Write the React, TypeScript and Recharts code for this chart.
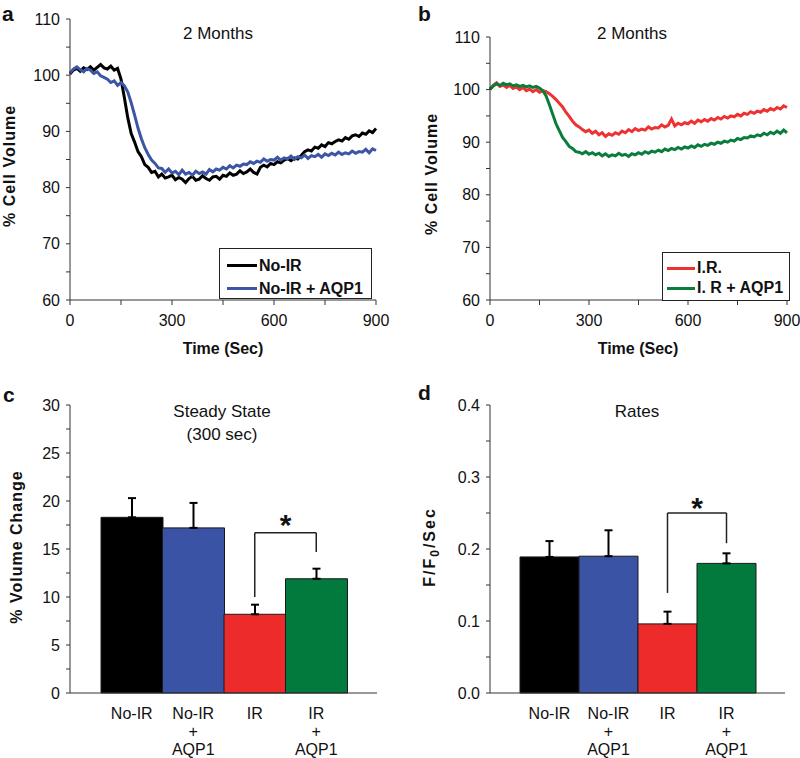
import React from 'react';
import { LineChart, Line, BarChart, Bar, Cell, XAxis, YAxis, ErrorBar, ReferenceLine, Legend } from 'recharts';

const FONT = '"Liberation Sans", Arial, Helvetica, sans-serif';

// ---------- time course data (every 10 s, 0..900 s) ----------
const times = Array.from({ length: 91 }, (_, i) => i * 10);

const noIR = [
  100.2, 100.9, 101.2, 100.7, 101.3, 101.0, 101.5, 100.9, 101.4, 101.9,
  101.3, 101.1, 101.6, 100.9, 101.2, 99.3, 96.0, 92.4, 89.6, 88.1,
  86.4, 85.5, 84.1, 83.6, 82.7, 82.9, 81.9, 82.4, 81.7, 81.9,
  82.2, 81.4, 81.8, 81.5, 80.9, 81.6, 82.0, 81.3, 81.5, 82.1,
  81.6, 81.3, 81.9, 82.0, 81.5, 82.2, 82.0, 82.6, 82.2, 82.4,
  83.0, 82.5, 82.8, 83.3, 82.7, 82.4, 83.6, 84.0, 83.7, 84.3,
  84.1, 84.6, 84.4, 84.9, 85.2, 84.8, 85.3, 85.1, 85.7, 86.4,
  86.7, 86.5, 87.2, 87.0, 87.6, 87.3, 88.0, 87.8, 88.2, 88.5,
  88.3, 88.9, 88.6, 89.2, 89.4, 89.1, 89.7, 89.5, 90.1, 89.8,
  90.5,
];
const noIRAqp1 = [
  100.4, 101.1, 101.5, 101.0, 100.6, 101.2, 100.9, 100.3, 100.6, 99.9,
  99.6, 99.3, 98.7, 99.0, 98.2, 98.7, 98.1, 97.0, 95.1, 92.9,
  90.6, 88.7, 87.1, 85.9, 84.9, 84.3, 83.5, 83.4, 82.7, 83.3,
  82.6, 82.9, 82.3, 83.1, 82.4, 82.7, 82.2, 82.9, 82.5, 82.8,
  82.4, 83.2, 82.8, 83.3, 83.1, 83.6, 83.3, 83.9, 83.5, 84.0,
  83.8, 84.2, 84.1, 84.6, 84.3, 84.7, 84.5, 85.1, 84.7, 85.0,
  84.9, 85.4, 84.9, 85.3, 85.1, 85.6, 85.0, 85.5, 85.3, 85.8,
  85.2, 85.7, 85.5, 85.9, 85.4, 86.0, 85.7, 86.1, 85.8, 86.3,
  85.9, 86.2, 86.0, 86.5, 86.1, 86.4, 86.3, 86.8, 86.2, 86.9,
  86.6,
];
const ir = [
  100.1, 100.8, 101.3, 100.6, 100.9, 100.4, 100.8, 100.2, 100.5, 100.0,
  100.4, 99.8, 100.1, 99.6, 100.0, 99.5, 99.8, 99.6, 99.2, 98.7,
  98.1, 97.4, 96.7, 95.7, 94.9, 94.0, 93.3, 92.9, 92.4, 92.0,
  92.3, 91.7, 92.1, 91.4, 91.8, 91.1, 91.6, 91.3, 91.8, 91.5,
  92.1, 91.8, 92.4, 92.0, 92.6, 92.2, 92.5, 92.3, 92.9, 92.5,
  92.8, 92.7, 93.3, 92.9, 93.2, 94.4, 93.1, 93.6, 93.3, 93.7,
  93.5, 94.0, 93.6, 94.2, 93.9, 94.3, 94.0, 94.5, 94.2, 94.7,
  94.4, 94.9, 94.6, 95.0, 94.8, 95.3, 95.0, 95.5, 95.3, 95.8,
  95.5, 95.9, 95.7, 96.2, 95.9, 96.4, 96.1, 96.6, 96.3, 96.9,
  96.6,
];
const irAqp1 = [
  100.0, 100.7, 101.1, 100.8, 101.2, 100.9, 101.1, 100.7, 100.9, 100.6,
  100.8, 100.5, 100.7, 100.4, 100.6, 100.3, 99.8, 98.8, 97.1, 95.3,
  93.5, 92.2, 90.9, 90.1, 89.2, 88.8, 88.2, 88.1, 87.8, 88.2,
  87.7, 88.0, 87.6, 87.9, 87.4, 87.8, 87.3, 87.6, 87.4, 87.9,
  87.5, 87.7, 87.3, 87.8, 87.6, 88.0, 87.7, 88.2, 87.9, 88.3,
  88.1, 88.5, 88.2, 88.7, 88.4, 88.8, 88.6, 89.0, 88.7, 89.1,
  88.9, 89.3, 89.0, 89.5, 89.2, 89.6, 89.4, 89.8, 89.6, 90.0,
  89.8, 90.2, 90.0, 90.4, 90.2, 90.7, 90.5, 90.9, 90.8, 91.2,
  91.0, 91.4, 91.2, 91.7, 91.4, 91.9, 91.6, 92.1, 91.7, 92.3,
  91.8,
];

const timeTicks = [0, 150, 300, 450, 600, 750, 900];
const timeLabels = [0, 300, 600, 900];
const volTicks = [60, 65, 70, 75, 80, 85, 90, 95, 100, 105, 110];
const volLabels = [60, 70, 80, 90, 100, 110];
const seriesNamesA = ['No-IR', 'No-IR + AQP1'];
const seriesNamesB = ['I.R.', 'I. R + AQP1'];

// ---------- bar data ----------
const groups = ['No-IR', 'No-IR + AQP1', 'IR', 'IR + AQP1'];
const groupColors = ['#000000', '#3a53a4', '#ed2b2b', '#027a3e'];
const steadyMean = [18.3, 17.2, 8.2, 11.9];
const steadyUpper = [20.3, 19.8, 9.2, 12.95];
const rateMean = [0.189, 0.19, 0.096, 0.18];
const rateUpper = [0.211, 0.226, 0.113, 0.194];
const steadyTicks = [0, 2.5, 5, 7.5, 10, 12.5, 15, 17.5, 20, 22.5, 25, 27.5, 30];
const steadyLabels = [0, 5, 10, 15, 20, 25, 30];
const rateTicks = [0, 0.05, 0.1, 0.15, 0.2, 0.25, 0.3, 0.35, 0.4];
const rateLabels = [0, 0.1, 0.2, 0.3, 0.4];
// bracket: [top, left leg end, right leg end]
const steadyBracket = [16.7, 10.0, 14.7];
const rateBracket = [0.25, 0.139, 0.208];

const lineDataA = times.map((t, i) => ({ t, noIR: noIR[i], noIRAqp1: noIRAqp1[i] }));
const lineDataB = times.map((t, i) => ({ t, ir: ir[i], irAqp1: irAqp1[i] }));
const steadyData = groups.map((g, i) => ({ name: g, value: steadyMean[i], err: [0, steadyUpper[i] - steadyMean[i]] }));
const rateData = groups.map((g, i) => ({ name: g, value: rateMean[i], err: [0, rateUpper[i] - rateMean[i]] }));

const fmtIn = (labels: number[], digits = 0) => (v: number) =>
  labels.some((l) => Math.abs(l - v) < 1e-9) ? v.toFixed(digits) : '';

const tickStyle = { fill: '#111', fontSize: 16, fontFamily: FONT };
const AXIS = '#333';

const CatTick = (props: any) => {
  const { x, y, payload } = props;
  const parts = String(payload.value).split(' ');
  const offs = [18, 36, 54];
  return (
    <g>
      {parts.map((p, i) => (
        <text key={i} x={x} y={y + offs[i]} textAnchor="middle" fontSize={16} fontFamily={FONT} fill="#111">
          {p}
        </text>
      ))}
    </g>
  );
};

const makeLegend = (cfg: { padLeft: number; padTop: number; rowH: number; lineW: number; order: string[] }) => (props: any) => {
  const payload = [...(props.payload || [])].sort(
    (a: any, b: any) => cfg.order.indexOf(a.value) - cfg.order.indexOf(b.value)
  );
  return (
    <div
      style={{
        width: '100%',
        height: '100%',
        boxSizing: 'border-box',
        border: '1px solid #222',
        background: '#fff',
        fontFamily: FONT,
        fontWeight: 700,
        fontSize: 16,
        color: '#111',
        paddingLeft: cfg.padLeft,
        paddingTop: cfg.padTop,
      }}
    >
      {payload.map((p: any) => (
        <div key={p.value} style={{ display: 'flex', alignItems: 'center', height: cfg.rowH, whiteSpace: 'nowrap' }}>
          <span style={{ display: 'inline-block', width: cfg.lineW, height: 3, background: p.color, marginRight: 2 }} />
          <span>{p.value}</span>
        </div>
      ))}
    </div>
  );
};

const letterStyle = { fontFamily: FONT, fontWeight: 700, fontSize: 21, fill: '#111' };
const titleStyle = { fontFamily: FONT, fontSize: 17, fill: '#111' };
const axisTitleStyle = { fontFamily: FONT, fontWeight: 700, fontSize: 16, fill: '#111' };
const LW = 3;

const PanelA = () => (
  <LineChart width={400} height={370} data={lineDataA} margin={{ top: 19, right: 24, bottom: 20, left: 30 }}>
    <XAxis dataKey="t" type="number" domain={[0, 900]} ticks={timeTicks} tickFormatter={fmtIn(timeLabels)}
      height={50} tickSize={5} tickMargin={10} stroke={AXIS} tick={tickStyle} interval={0} />
    <YAxis type="number" domain={[60, 110]} ticks={volTicks} tickFormatter={fmtIn(volLabels)}
      width={40} tickSize={4} tickMargin={6} stroke={AXIS} tick={tickStyle} interval={0} />
    <Line dataKey="noIR" name={seriesNamesA[0]} stroke="#000000" strokeWidth={LW} dot={false} isAnimationActive={false} />
    <Line dataKey="noIRAqp1" name={seriesNamesA[1]} stroke="#3c55a5" strokeWidth={LW} dot={false} isAnimationActive={false} />
    <Legend layout="vertical" align="center" verticalAlign="middle"
      content={makeLegend({ padLeft: 7, padTop: 5, rowH: 23, lineW: 30, order: seriesNamesA })}
      wrapperStyle={{ left: 219, top: 248, width: 153, height: 51 }} />
    <text x={2} y={21} {...letterStyle}>a</text>
    <text x={218} y={39} textAnchor="middle" {...titleStyle}>2 Months</text>
    <text transform="translate(15,166) rotate(-90)" textAnchor="middle" letterSpacing={1} {...axisTitleStyle}>% Cell Volume</text>
    <text x={223} y={354} textAnchor="middle" {...axisTitleStyle}>Time (Sec)</text>
  </LineChart>
);

const PanelB = () => (
  <LineChart width={400} height={370} data={lineDataB} margin={{ top: 37, right: 13, bottom: 20, left: 50 }}>
    <XAxis dataKey="t" type="number" domain={[0, 900]} ticks={timeTicks} tickFormatter={fmtIn(timeLabels)}
      height={50} tickSize={5} tickMargin={10} stroke={AXIS} tick={tickStyle} interval={0} />
    <YAxis type="number" domain={[60, 110]} ticks={volTicks} tickFormatter={fmtIn(volLabels)}
      width={40} tickSize={4} tickMargin={6} stroke={AXIS} tick={tickStyle} interval={0} />
    <Line dataKey="ir" name={seriesNamesB[0]} stroke="#ee3232" strokeWidth={LW} dot={false} isAnimationActive={false} />
    <Line dataKey="irAqp1" name={seriesNamesB[1]} stroke="#0a7d3c" strokeWidth={LW} dot={false} isAnimationActive={false} />
    <Legend layout="vertical" align="center" verticalAlign="middle"
      content={makeLegend({ padLeft: 4, padTop: 5, rowH: 20, lineW: 28, order: seriesNamesB })}
      wrapperStyle={{ left: 262, top: 252, width: 128, height: 49 }} />
    <text x={18} y={21} {...letterStyle}>b</text>
    <text x={232} y={39} textAnchor="middle" {...titleStyle}>2 Months</text>
    <text transform="translate(37,174) rotate(-90)" textAnchor="middle" letterSpacing={1} {...axisTitleStyle}>% Cell Volume</text>
    <text x={238} y={354} textAnchor="middle" {...axisTitleStyle}>Time (Sec)</text>
  </LineChart>
);

const bracketStroke = '#222';

const PanelC = () => (
  <BarChart width={400} height={388} data={steadyData} margin={{ top: 35, right: 23, bottom: 5, left: 30 }} barCategoryGap={0}>
    <XAxis dataKey="name" height={60} padding={{ left: 31, right: 30 }} tickLine={false} tickSize={6} tickMargin={2}
      tick={<CatTick />} stroke={AXIS} interval={0} />
    <YAxis type="number" domain={[0, 30]} ticks={steadyTicks} tickFormatter={fmtIn(steadyLabels)}
      width={40} tickSize={4} tickMargin={6} stroke={AXIS} tick={tickStyle} interval={0} />
    <Bar dataKey="value" stroke="#1a1a1a" strokeWidth={1} isAnimationActive={false}>
      {steadyData.map((d, i) => (
        <Cell key={d.name} fill={groupColors[i]} />
      ))}
      <ErrorBar dataKey="err" width={4} stroke="#000" strokeWidth={2} direction="y" isAnimationActive={false} />
    </Bar>
    <ReferenceLine segment={[{ x: groups[2], y: steadyBracket[0] }, { x: groups[3], y: steadyBracket[0] }]}
      stroke={bracketStroke} strokeWidth={1.5}
      label={{ value: '*', position: 'top', offset: -2, fontSize: 30, fontWeight: 700, fill: '#111', fontFamily: FONT }} />
    <ReferenceLine segment={[{ x: groups[2], y: steadyBracket[0] }, { x: groups[2], y: steadyBracket[1] }]}
      stroke={bracketStroke} strokeWidth={1.5} />
    <ReferenceLine segment={[{ x: groups[3], y: steadyBracket[0] }, { x: groups[3], y: steadyBracket[2] }]}
      stroke={bracketStroke} strokeWidth={1.5} />
    <text x={3} y={32} {...letterStyle}>c</text>
    <text x={222} y={47} textAnchor="middle" {...titleStyle}>Steady State</text>
    <text x={222} y={70} textAnchor="middle" {...titleStyle}>(300 sec)</text>
    <text transform="translate(22,177) rotate(-90)" textAnchor="middle" letterSpacing={1} {...axisTitleStyle}>% Volume Change</text>
  </BarChart>
);

const PanelD = () => (
  <BarChart width={400} height={388} data={rateData} margin={{ top: 35, right: 15, bottom: 5, left: 50 }} barCategoryGap={0}>
    <XAxis dataKey="name" height={60} padding={{ left: 30, right: 29 }} tickLine={false} tickSize={6} tickMargin={2}
      tick={<CatTick />} stroke={AXIS} interval={0} />
    <YAxis type="number" domain={[0, 0.4]} ticks={rateTicks} tickFormatter={fmtIn(rateLabels, 1)}
      width={40} tickSize={4} tickMargin={6} stroke={AXIS} tick={tickStyle} interval={0} />
    <Bar dataKey="value" stroke="#1a1a1a" strokeWidth={1} isAnimationActive={false}>
      {rateData.map((d, i) => (
        <Cell key={d.name} fill={groupColors[i]} />
      ))}
      <ErrorBar dataKey="err" width={4} stroke="#000" strokeWidth={2} direction="y" isAnimationActive={false} />
    </Bar>
    <ReferenceLine segment={[{ x: groups[2], y: rateBracket[0] }, { x: groups[3], y: rateBracket[0] }]}
      stroke={bracketStroke} strokeWidth={1.5}
      label={{ value: '*', position: 'top', offset: -5, fontSize: 30, fontWeight: 700, fill: '#111', fontFamily: FONT }} />
    <ReferenceLine segment={[{ x: groups[2], y: rateBracket[0] }, { x: groups[2], y: rateBracket[1] }]}
      stroke={bracketStroke} strokeWidth={1.5} />
    <ReferenceLine segment={[{ x: groups[3], y: rateBracket[0] }, { x: groups[3], y: rateBracket[2] }]}
      stroke={bracketStroke} strokeWidth={1.5} />
    <text x={18} y={30} {...letterStyle}>d</text>
    <text x={237} y={47} textAnchor="middle" {...titleStyle}>Rates</text>
    <text transform="translate(35,177) rotate(-90)" textAnchor="middle" letterSpacing={2} {...axisTitleStyle}>
      F/F<tspan fontSize={12} dy={4}>0</tspan><tspan dy={-4}>/Sec</tspan>
    </text>
  </BarChart>
);

export default function App() {
  return (
    <div style={{ position: 'absolute', left: 0, top: 0, width: 800, height: 758, background: '#fff', overflow: 'hidden' }}>
      <div style={{ position: 'absolute', left: 0, top: 0 }}><PanelA /></div>
      <div style={{ position: 'absolute', left: 400, top: 0 }}><PanelB /></div>
      <div style={{ position: 'absolute', left: 0, top: 370 }}><PanelC /></div>
      <div style={{ position: 'absolute', left: 400, top: 370 }}><PanelD /></div>
    </div>
  );
}
